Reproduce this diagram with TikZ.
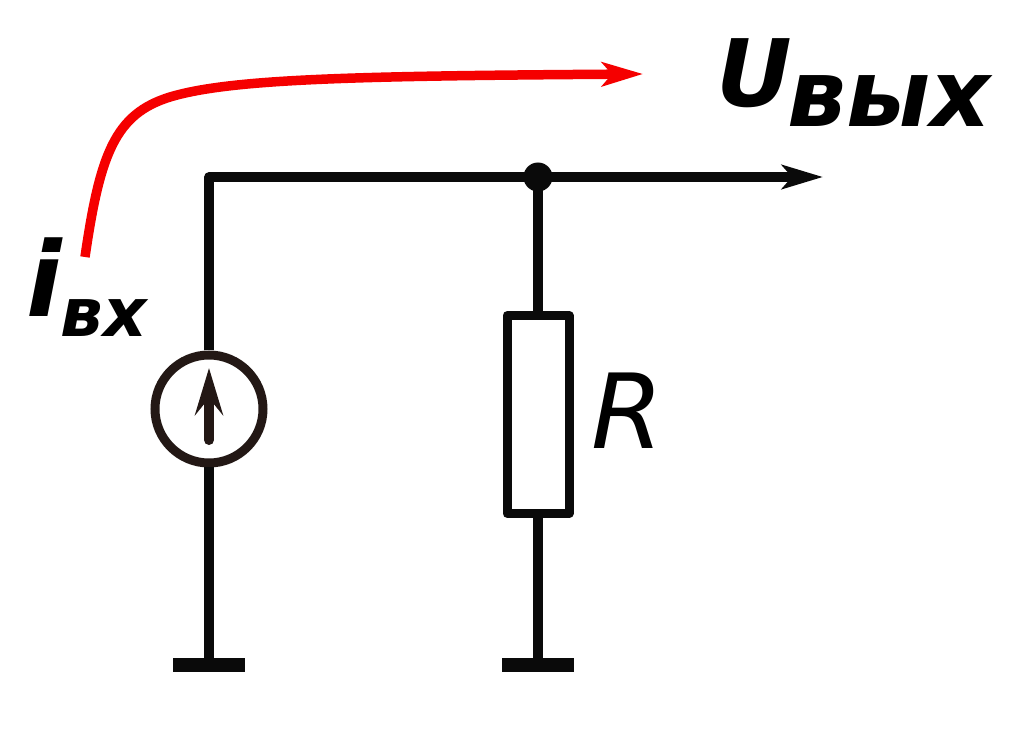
\documentclass[tikz,border=0pt]{standalone}
\usepackage{fontspec}
\setmainfont{DejaVu Sans}
\usetikzlibrary{arrows.meta}
\definecolor{wirecol}{HTML}{0A0A0A}
\definecolor{srccol}{HTML}{231815}
\definecolor{flowcol}{HTML}{F50000}
\tikzset{
    wire/.style={draw=wirecol, line width=0.095cm, line join=round},
    flow/.style={draw=flowcol, line width=0.095cm},
    tip/.style={-{Stealth[length=0.41cm, width=0.24cm, inset=0.1cm]}},
    ground/.style={fill=wirecol, minimum width=0.72cm, minimum height=0.14cm, inner sep=0pt, outer sep=0pt},
    label/.style={anchor=base west, inner sep=0pt, font=\bfseries\itshape\fontsize{26.5}{30}\selectfont}
}
\begin{document}
\begin{tikzpicture}
    \useasboundingbox (0,0) rectangle (10.15,7.44);

    % Circuit nodes
    \coordinate (corner) at (2.09,5.67);
    \coordinate (out) at (8.23,5.67);
    \node[circle, fill=wirecol, minimum size=0.29cm, inner sep=0pt, outer sep=0pt] (dot) at (5.38,5.67) {};
    \node[circle, draw=srccol, line width=0.09cm, fill=white, minimum size=1.08cm, inner sep=0pt] (src) at (2.09,3.35) {};
    \node[rectangle, draw=wirecol, line width=0.09cm, line join=round, fill=white, minimum width=0.62cm, minimum height=1.98cm, inner sep=0pt] (res) at (5.38,3.295) {};
    \node[ground] (gndl) at (2.09,0.79) {};
    \node[ground] (gndr) at (5.38,0.79) {};

    % Wires
    \draw[wire] (src) -- (corner) -- (dot.center);
    \draw[wire, tip] (dot.center) -- (out);
    \draw[wire] (src) -- (gndl);
    \draw[wire] (dot.center) -- (res);
    \draw[wire] (res) -- (gndr);

    % Arrow inside the source
    \coordinate (srcb) at (2.09,3.04);
    \coordinate (srct) at (2.09,3.76);
    \draw[draw=srccol, line width=0.1cm, line cap=round, -{Stealth[length=0.47cm, width=0.28cm, inset=0.17cm]}] (srcb) -- (srct);

    % Red current arrow
    \coordinate (flows) at (0.85,4.87);
    \coordinate (flowe) at (6.43,6.70);
    \draw[flow, tip] (flows) .. controls (1.0,5.9) and (1.15,6.3) .. (1.7,6.47)
        .. controls (2.3,6.65) and (3.5,6.68) .. (flowe);

    % Labels
    \node[label] (uname) at (7.16,6.37) {U};
    \node[label] (usub) at (7.87,6.18) {вых};
    \node[label, font=\bfseries\itshape\fontsize{29.5}{32}\selectfont] (iname) at (0.26,4.28) {i};
    \node[label, font=\bfseries\itshape\fontsize{19.2}{22}\selectfont] (isub) at (0.6,4.07) {вх};
    \node[label, font=\itshape\fontsize{29.5}{32}\selectfont] (rname) at (5.91,2.95) {R};
\end{tikzpicture}
\end{document}
